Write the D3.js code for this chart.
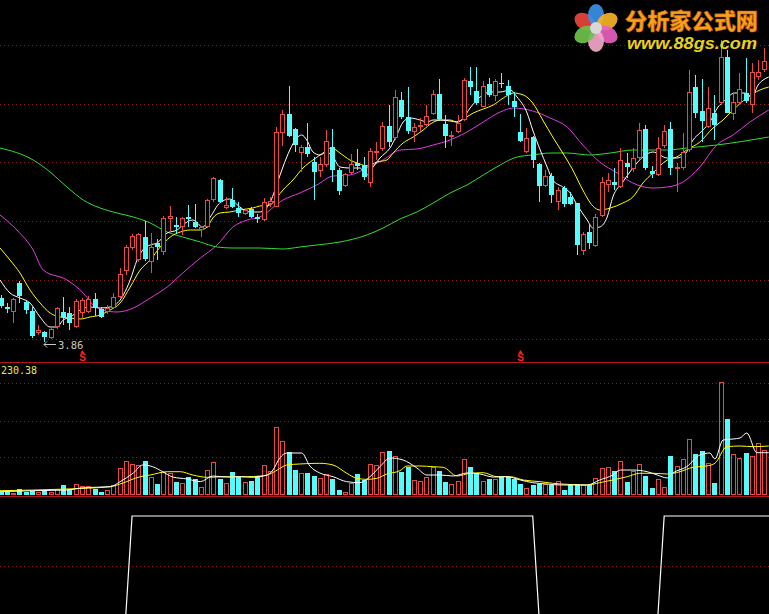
<!DOCTYPE html>
<html><head><meta charset="utf-8">
<script src="https://cdn.jsdelivr.net/npm/d3@7"></script>
<style>html,body{margin:0;padding:0;background:#000;overflow:hidden}</style>
</head><body>
<svg id="c" width="769" height="614"></svg>
<script>
// ---------- DATA ----------
const opens  = [4.30,4.21,4.16,4.45,4.26,4.17,3.95,3.96,3.90,4.01,4.16,4.15,4.01,4.15,4.16,4.29,4.19,4.16,4.20,4.31,
4.57,4.80,4.68,4.91,4.66,4.85,4.76,5.09,5.03,5.01,5.11,5.06,4.98,5.01,5.28,5.48,5.20,5.28,5.20,5.14,
5.19,5.11,5.08,5.24,5.21,5.95,6.14,5.99,5.75,5.81,5.66,5.57,5.63,5.81,5.58,5.42,5.55,5.65,5.63,5.45,
5.75,5.79,6.02,5.90,6.28,6.11,5.96,6.01,6.03,6.14,6.34,6.04,5.91,5.96,6.08,6.47,6.37,6.21,6.44,6.32,
6.45,6.42,6.27,5.96,5.76,5.91,5.64,5.42,5.52,5.26,5.40,5.31,5.25,4.77,4.96,4.82,5.12,5.43,5.46,5.41,
5.65,5.59,5.70,5.99,5.57,5.53,5.82,5.99,5.59,5.60,5.78,6.41,6.17,6.01,6.15,6.25,6.71,6.14,6.25,6.35,
6.23,6.51,6.58,6.53];
const closes = [4.22,4.19,4.29,4.32,4.18,3.92,3.98,3.91,3.99,4.20,4.11,4.05,4.27,4.28,4.29,4.20,4.11,4.20,4.31,4.54,
4.81,4.92,4.94,4.69,4.81,4.81,5.10,5.12,5.01,5.10,5.09,5.01,5.01,5.28,5.50,5.26,5.23,5.21,5.15,5.18,
5.11,5.09,5.26,5.27,5.96,6.14,5.92,5.83,5.81,5.74,5.56,5.64,5.87,5.58,5.37,5.54,5.64,5.62,5.51,5.77,
5.77,6.02,5.86,6.31,6.11,5.97,6.01,6.03,6.12,6.34,6.09,5.92,5.93,6.05,6.48,6.41,6.25,6.42,6.33,6.47,
6.44,6.33,6.21,5.87,5.90,5.68,5.42,5.52,5.33,5.38,5.24,5.24,4.83,4.94,4.85,5.11,5.46,5.48,5.43,5.68,
5.61,5.70,5.98,5.60,5.54,5.80,5.97,5.60,5.61,5.76,6.36,6.15,6.07,6.20,6.03,6.71,6.15,6.26,6.39,6.27,
6.56,6.56,6.67,6.55];
const highs  = [4.33,4.25,4.30,4.47,4.27,4.21,4.03,3.97,4.01,4.21,4.31,4.21,4.29,4.30,4.32,4.35,4.21,4.23,4.35,4.60,
4.83,4.94,4.95,5.07,4.95,4.89,5.12,5.22,5.11,5.11,5.23,5.24,5.02,5.29,5.51,5.49,5.31,5.40,5.26,5.20,
5.21,5.14,5.30,5.31,6.01,6.18,6.42,6.00,5.83,6.05,5.71,5.71,5.98,5.99,5.60,5.55,5.74,5.79,5.71,5.80,
5.86,6.06,6.23,6.38,6.36,6.41,6.05,6.10,6.23,6.38,6.49,6.13,5.97,6.13,6.50,6.61,6.61,6.47,6.50,6.49,
6.55,6.48,6.36,6.14,6.00,5.92,5.65,5.58,5.55,5.41,5.42,5.36,5.25,4.96,5.03,5.14,5.51,5.55,5.60,5.80,
5.75,5.80,6.05,6.03,5.62,5.91,6.03,6.06,5.65,5.95,6.58,6.53,6.49,6.41,6.33,6.88,6.78,6.36,6.55,6.70,
6.65,6.68,6.80,6.58];
const lows   = [4.20,4.15,4.05,4.25,4.14,3.90,3.93,3.86,3.89,3.99,4.03,3.98,4.00,4.10,4.15,4.12,4.10,4.14,4.19,4.30,
4.53,4.78,4.66,4.67,4.55,4.68,4.73,4.96,4.95,4.93,5.01,5.00,4.91,5.00,5.26,5.25,5.19,5.20,5.11,5.13,
5.10,5.05,5.07,5.21,5.21,5.82,5.91,5.76,5.56,5.71,5.28,5.51,5.61,5.46,5.33,5.41,5.53,5.58,5.48,5.41,
5.68,5.77,5.81,5.88,6.09,5.94,5.86,5.96,6.02,6.13,6.07,5.80,5.82,5.95,6.07,6.33,6.23,6.21,6.31,6.27,
6.40,6.23,6.11,5.86,5.75,5.60,5.26,5.41,5.25,5.18,5.21,5.23,4.73,4.73,4.79,4.81,5.11,5.36,5.38,5.40,
5.50,5.56,5.68,5.58,5.50,5.52,5.80,5.53,5.36,5.58,5.76,6.10,5.86,6.00,5.88,6.23,6.15,6.08,6.23,6.25,
6.15,6.48,6.56,6.51];
const volumes = [4.8,4.8,4.2,10.1,6,7.7,6,7.7,6,11.3,17.9,10.7,19.6,16.1,16.1,10.7,6,8.9,17.9,48.2,
60.7,55.4,53.6,60.7,32.7,19.6,41.7,38.7,23.2,22,32.7,28,14.9,44.6,58.9,29.2,20.8,40.5,32.7,23.2,
25.6,33.9,53.6,42.9,120.8,96.4,76.2,44.6,38.7,39.9,33.9,31,36.9,28.6,8.9,4.8,22,37.5,26.8,54.8,
53.6,76.2,78.6,69.6,41.7,50.6,26.8,25,32.7,50.6,42.9,23.2,19.6,25,64.3,50.6,38.7,25,28,28,
31.5,32.7,28,19.6,12.5,18.5,19.6,19.6,17.3,25,8.9,17.9,19.6,17.3,17.3,30.4,48.2,50,42.9,60.7,
23.8,42.9,54.8,34.5,12.5,28.6,14.3,69.6,51.8,64.3,100,73.2,78.6,56.5,22,201,135.7,73.2,66.7,75.6,
69.6,92.3,80.4,68.5];
// moving-average lines: [bar index, value]
const maWhite = [[-0.1,4.48],[1.5,4.35],[3.1,4.30],[4.7,4.25],[6.3,4.11],[7.9,4.01],[9.0,4.01],[10.0,4.08],[11.1,4.11],[12.7,4.18],[14.3,4.21],[15.9,4.20],[17.5,4.21],[19.1,4.28],[20.7,4.48],[21.8,4.68],[22.7,4.78],[23.9,4.83],[25.0,4.85],[26.6,4.95],[28.2,4.98],[29.1,5.03],[30.7,5.08],[32.3,5.01],[33.5,5.11],[35.0,5.25],[36.6,5.29],[38.2,5.21],[39.8,5.16],[41.4,5.16],[43.0,5.25],[44.2,5.45],[45.1,5.61],[46.2,5.78],[47.3,5.90],[48.1,5.93],[48.9,5.88],[49.9,5.76],[51.0,5.73],[52.1,5.76],[53.1,5.71],[54.2,5.61],[55.8,5.60],[57.4,5.60],[58.5,5.53],[59.5,5.61],[60.6,5.70],[62.2,5.80],[63.3,5.93],[64.3,6.06],[65.4,6.10],[67.0,6.08],[68.1,6.06],[69.1,6.08],[70.2,6.08],[71.8,6.07],[72.9,6.06],[73.9,6.10],[75.0,6.20],[76.6,6.31],[78.2,6.36],[79.8,6.36],[81.4,6.38],[82.5,6.31],[84.1,6.15],[85.0,5.98],[86.2,5.78],[87.3,5.61],[88.2,5.48],[89.8,5.41],[91.0,5.35],[92.1,5.23],[93.7,5.08],[94.6,5.00],[95.7,5.01],[96.9,5.11],[97.8,5.31],[99.4,5.46],[101.0,5.60],[102.6,5.71],[104.2,5.76],[106.5,5.70],[108.0,5.70],[109.6,5.76],[110.6,5.88],[111.7,5.95],[113.3,6.06],[114.6,6.21],[115.4,6.26],[117.3,6.35],[118.9,6.35],[120.0,6.31],[121.0,6.43],[121.8,6.48],[122.7,6.51]];
const maYellow = [[-0.1,4.80],[1.5,4.68],[3.1,4.55],[4.7,4.38],[6.3,4.25],[7.9,4.15],[9.5,4.11],[11.1,4.10],[12.7,4.09],[14.3,4.11],[15.9,4.13],[17.5,4.18],[19.1,4.25],[20.7,4.41],[22.3,4.58],[23.9,4.68],[25.5,4.81],[27.1,4.91],[28.7,4.96],[30.3,4.98],[31.9,4.98],[33.0,5.01],[33.9,5.10],[35.0,5.15],[36.6,5.16],[38.2,5.18],[40.3,5.20],[41.4,5.22],[43.0,5.23],[44.2,5.31],[45.1,5.38],[46.7,5.48],[48.3,5.60],[49.9,5.68],[51.5,5.75],[52.9,5.80],[54.2,5.75],[55.8,5.68],[57.4,5.64],[58.5,5.62],[60.1,5.66],[61.7,5.68],[62.7,5.75],[64.3,5.85],[65.9,5.91],[67.5,5.98],[68.9,6.05],[70.2,6.08],[71.8,6.08],[72.9,6.06],[74.2,6.10],[75.5,6.15],[77.1,6.19],[78.7,6.23],[80.3,6.30],[81.9,6.35],[83.5,6.33],[85.0,6.25],[86.6,6.08],[88.2,5.91],[89.8,5.75],[91.4,5.58],[93.0,5.38],[94.6,5.22],[95.7,5.18],[97.4,5.20],[99.4,5.25],[101.0,5.31],[102.6,5.45],[104.2,5.55],[106.5,5.68],[108.0,5.71],[109.6,5.78],[111.7,5.86],[113.8,6.00],[115.4,6.08],[117.0,6.18],[119.2,6.30],[121.3,6.38],[122.7,6.41]];
const maMagenta = [[-0.1,5.13],[2.6,4.98],[5.2,4.78],[6.8,4.58],[10.6,4.48],[13.2,4.35],[14.8,4.23],[16.4,4.18],[18.6,4.16],[21.2,4.20],[23.9,4.30],[26.6,4.41],[29.1,4.55],[31.9,4.70],[34.6,4.83],[37.1,5.01],[39.4,5.08],[41.4,5.11],[45.1,5.28],[47.8,5.35],[50.5,5.43],[53.1,5.52],[55.8,5.53],[58.5,5.60],[61.1,5.68],[63.8,5.78],[66.5,5.79],[69.1,5.83],[71.8,5.88],[74.5,5.96],[77.1,6.06],[79.8,6.16],[81.9,6.20],[85.0,6.17],[87.8,6.10],[90.5,6.01],[93.0,5.83],[95.7,5.66],[98.5,5.55],[101.0,5.45],[104.2,5.40],[106.5,5.41],[109.0,5.46],[111.7,5.61],[114.4,5.83],[117.0,5.93],[119.7,6.06],[122.7,6.18]];
const maGreen = [[-0.1,5.80],[5.2,5.68],[7.9,5.56],[10.6,5.41],[13.2,5.28],[15.9,5.20],[18.6,5.15],[21.2,5.11],[23.9,5.05],[26.6,4.96],[29.1,4.91],[31.9,4.86],[34.6,4.81],[37.1,4.80],[41.4,4.80],[45.1,4.79],[47.8,4.81],[50.5,4.83],[54.2,4.86],[58.5,4.93],[61.1,5.00],[63.8,5.09],[66.5,5.16],[69.1,5.25],[71.8,5.35],[74.5,5.43],[77.1,5.53],[79.8,5.63],[82.5,5.71],[85.0,5.73],[87.8,5.75],[90.5,5.75],[94.1,5.73],[97.4,5.75],[101.0,5.78],[106.5,5.78],[109.6,5.80],[114.4,5.83],[122.7,5.91]];
const volMaWhite = [[-0.1,5.9],[5.2,7.7],[10.6,8.9],[13.2,13],[17.5,14.8],[19.1,23.8],[21.2,39.3],[22.7,53.6],[24.3,50.5],[25.9,41.6],[27.5,32.1],[29.8,28.6],[31.9,23.8],[33.9,33.9],[36.2,32.1],[38.2,32.7],[40.3,31.6],[42.6,35.7],[43.5,44.6],[44.6,66.1],[45.7,75],[48.1,75],[49.4,51.8],[51.0,39.3],[53.1,32.7],[55.3,23.8],[57.4,22],[59.0,32.7],[60.6,50.5],[62.2,66.1],[64.3,62.5],[66.5,48.2],[68.1,35.7],[70.2,35.7],[72.3,33.9],[74.5,39.3],[76.6,37.5],[78.7,32.1],[80.9,32.7],[83.0,26.8],[85.0,22],[87.3,19.6],[89.4,17.9],[91.4,17.9],[93.7,17.9],[95.7,26.8],[97.8,35.7],[99.0,44.6],[101.0,44.6],[103.3,41.6],[104.9,35.7],[106.5,30.4],[107.4,39.3],[109.6,50.5],[111.7,71.4],[113.3,75],[114.1,64.3],[115.4,98.2],[117.0,100],[118.1,101.8],[119.2,110.7],[120.8,75.5],[122.7,75.5]];
const volMaYellow = [[-0.1,7.7],[10.6,10.7],[17.5,14.8],[19.1,19.6],[22.3,32.7],[23.9,35.7],[26.6,41.6],[28.7,41.6],[30.7,35.7],[33.0,31.6],[36.2,32.7],[39.4,32.7],[41.4,33.9],[42.6,35.7],[44.2,44.6],[45.7,53.6],[47.8,55.4],[51.0,56.6],[53.1,53.6],[55.3,38.8],[56.9,29.8],[58.5,28],[60.1,29.8],[61.7,37.5],[63.8,43.4],[64.9,51.8],[67.0,51.8],[69.1,50.5],[70.7,49.5],[72.9,34],[75.0,38.8],[77.1,39.8],[79.3,32.7],[81.4,32.7],[83.5,26.8],[86.2,23.8],[88.2,20.9],[90.5,19.1],[93.7,17.9],[95.7,22],[97.8,26.8],[100.1,32.7],[102.1,38.8],[104.2,38.8],[106.5,37.5],[108.5,41.6],[110.6,49.5],[112.8,51.8],[114.1,56.6],[116.0,86.3],[118.1,87.5],[120.2,86.3],[122.7,87.5]];
const signal = [0,0,0,0,0,0,0,0,0,0,0,0,0,0,0,0,0,0,0,0,0,
1,1,1,1,1,1,1,1,1,1,1,1,1,1,1,1,1,1,1,1,1,1,1,1,1,1,1,1,1,1,1,1,1,1,1,1,1,1,1,1,1,1,1,1,1,1,1,1,1,1,1,1,1,1,1,1,1,1,1,1,1,1,1,1,1,
0,0,0,0,0,0,0,0,0,0,0,0,0,0,0,0,0,0,0,0,
1,1,1,1,1,1,1,1,1,1,1,1,1,1,1,1,1,1];
const signalBars = [13, 83];
const lowIndex = 7, lowLabel = "3.86";
const volTopLabel = "230.38";
const priceGrid = [6.83, 6.24, 5.66, 5.07, 4.48, 3.89];
const volGrid = [200, 133, 67];
const sigGrid = [0.5];
const logoTitle = "分析家公式网", logoUrl = "www.88gs.com";

// ---------- CHART ----------
const W = 769, H = 614;
const RED = "#e84848", CYAN = "#54fcfc";
const svg = d3.select("#c");
svg.append("rect").attr("width", W).attr("height", H).attr("fill", "#000");

const x = d3.scaleLinear().domain([0, 123]).range([0.6, 770.6]);
const yP = d3.scaleLinear().domain([3.86, 6.83]).range([342, 45]);
const yV = d3.scaleLinear().domain([0, 230.38]).range([495, 366]);
const yS = d3.scaleLinear().domain([0, 1]).range([615, 516]);

const defs = svg.append("defs");
defs.append("clipPath").attr("id", "cMain").append("rect").attr("x", 0).attr("y", 0).attr("width", W).attr("height", 361);
defs.append("clipPath").attr("id", "cVol").append("rect").attr("x", 0).attr("y", 364).attr("width", W).attr("height", 132);

// grid lines
const grid = svg.append("g").attr("stroke", "#8a1c1c").attr("stroke-dasharray", "1,3").attr("shape-rendering", "crispEdges");
priceGrid.forEach(p => grid.append("line").attr("x1", 0).attr("x2", W).attr("y1", Math.round(yP(p)) + 0.5).attr("y2", Math.round(yP(p)) + 0.5));
volGrid.forEach(v => grid.append("line").attr("x1", 0).attr("x2", W).attr("y1", Math.round(yV(v)) + 0.5).attr("y2", Math.round(yV(v)) + 0.5));
sigGrid.forEach(v => grid.append("line").attr("x1", 0).attr("x2", W).attr("y1", Math.round(yS(v)) + 0.5).attr("y2", Math.round(yS(v)) + 0.5));

// separators
[362.5, 496.5].forEach(yy => svg.append("line").attr("x1", 0).attr("x2", W).attr("y1", yy).attr("y2", yy)
  .attr("stroke", "#b01818").attr("stroke-width", 1).attr("shape-rendering", "crispEdges"));

// moving averages (main)
const gMain = svg.append("g").attr("clip-path", "url(#cMain)");
const lineP = d3.line().x(d => x(d[0])).y(d => yP(d[1])).curve(d3.curveMonotoneX);
[[maGreen, "#2ee02e"], [maMagenta, "#e23ce2"], [maYellow, "#ffff00"], [maWhite, "#ffffff"]].forEach(([d, c]) =>
  gMain.append("path").attr("d", lineP(d)).attr("fill", "none").attr("stroke", c).attr("stroke-width", 1));

// candles
const candles = gMain.append("g").attr("shape-rendering", "crispEdges");
opens.forEach((o, i) => {
  const c = closes[i], h = highs[i], l = lows[i];
  const cx = Math.round(x(i));
  const up = c >= o;
  const yTop = Math.round(yP(Math.max(o, c))), yBot = Math.round(yP(Math.min(o, c)));
  const yH = Math.round(yP(h)), yL = Math.round(yP(l));
  if (up) {
    if (yTop > yH) candles.append("line").attr("x1", cx + 0.5).attr("x2", cx + 0.5).attr("y1", yH).attr("y2", yTop).attr("stroke", RED);
    if (yL > yBot) candles.append("line").attr("x1", cx + 0.5).attr("x2", cx + 0.5).attr("y1", yBot).attr("y2", yL).attr("stroke", RED);
    if (yBot - yTop < 2) {
      candles.append("line").attr("x1", cx - 2).attr("x2", cx + 3).attr("y1", yTop + 0.5).attr("y2", yTop + 0.5).attr("stroke", RED);
    } else {
      candles.append("rect").attr("x", cx - 1.5).attr("y", yTop + 0.5).attr("width", 4).attr("height", yBot - yTop - 1)
        .attr("fill", "#000").attr("stroke", RED);
    }
  } else {
    candles.append("line").attr("x1", cx + 0.5).attr("x2", cx + 0.5).attr("y1", yH).attr("y2", yL).attr("stroke", CYAN);
    candles.append("rect").attr("x", cx - 2).attr("y", yTop).attr("width", 5).attr("height", Math.max(1, yBot - yTop)).attr("fill", CYAN);
  }
});

// low label
const lx = Math.round(x(lowIndex)), ly = Math.round(yP(3.86)) + 2.5;
svg.append("path").attr("d", `M${lx + 12},${ly} H${lx} M${lx + 3},${ly - 3} L${lx},${ly} L${lx + 3},${ly + 3}`)
  .attr("stroke", "#c8c8c8").attr("fill", "none");
svg.append("text").attr("x", lx + 14).attr("y", ly + 4).text(lowLabel)
  .attr("fill", "#c8c8c8").attr("font-family", "DejaVu Sans Mono, monospace").attr("font-size", 10.5);

// signal markers
signalBars.forEach(i => {
  const cx = Math.round(x(i)) + 0.5;
  svg.append("path").attr("d", `M${cx - 2},353 L${cx},350 L${cx + 2},353 Z`).attr("fill", "#ff2020");
  svg.append("text").attr("x", cx).attr("y", 361).attr("text-anchor", "middle").text("S")
    .attr("fill", "#ff2020").attr("font-family", "Liberation Sans, Arial, sans-serif").attr("font-weight", "bold").attr("font-size", 10);
});

// volume panel
const gVol = svg.append("g").attr("clip-path", "url(#cVol)");
const vb = gVol.append("g").attr("shape-rendering", "crispEdges");
volumes.forEach((v, i) => {
  const cx = Math.round(x(i));
  const top = Math.round(yV(v)), base = Math.round(yV(0));
  if (closes[i] >= opens[i]) {
    vb.append("rect").attr("x", cx - 1.5).attr("y", top + 0.5).attr("width", 4).attr("height", Math.max(1, base - top - 1))
      .attr("fill", "none").attr("stroke", RED);
  } else {
    vb.append("rect").attr("x", cx - 2).attr("y", top).attr("width", 5).attr("height", base - top).attr("fill", CYAN);
  }
});
const lineV = d3.line().x(d => x(d[0])).y(d => yV(d[1])).curve(d3.curveMonotoneX);
gVol.append("path").attr("d", lineV(volMaYellow)).attr("fill", "none").attr("stroke", "#ffff00");
gVol.append("path").attr("d", lineV(volMaWhite)).attr("fill", "none").attr("stroke", "#ffffff");
svg.append("text").attr("x", 1).attr("y", 374).text(volTopLabel)
  .attr("fill", "#e8e850").attr("font-family", "DejaVu Sans Mono, monospace").attr("font-size", 10);

// signal panel
const lineS = d3.line().x((d, i) => x(i)).y(d => yS(d));
svg.append("path").attr("d", lineS(signal)).attr("fill", "none").attr("stroke", "#fff").attr("stroke-width", 1.2);

// logo
const logo = svg.append("g");
const fcx = 596, fcy = 28;
const petals = ["#e8453c", "#3b8fe8", "#f5b324", "#e75fbf", "#f2a7c7", "#6cc24a"];
petals.forEach((col, k) => {
  const a = -150 + k * 60;
  const rad = a * Math.PI / 180;
  logo.append("ellipse").attr("cx", fcx + 13 * Math.cos(rad)).attr("cy", fcy + 13 * Math.sin(rad))
    .attr("rx", 11).attr("ry", 8).attr("transform", `rotate(${a},${fcx + 13 * Math.cos(rad)},${fcy + 13 * Math.sin(rad)})`)
    .attr("fill", col).attr("opacity", 0.92);
});
logo.append("circle").attr("cx", fcx).attr("cy", fcy).attr("r", 6).attr("fill", "#d8d8d8");
logo.append("text").attr("x", 625).attr("y", 29).text(logoTitle)
  .attr("fill", "#f7a01b").attr("stroke", "#c05a10").attr("stroke-width", 0.6)
  .attr("font-family", "Noto Sans CJK SC, sans-serif").attr("font-weight", "900").attr("font-size", 22)
  .attr("textLength", 133).attr("lengthAdjust", "spacingAndGlyphs");
logo.append("text").attr("x", 627).attr("y", 49).text(logoUrl)
  .attr("fill", "#e8d21d").attr("font-family", "Liberation Sans, Arial, sans-serif").attr("font-weight", "bold")
  .attr("font-style", "italic").attr("font-size", 17)
  .attr("textLength", 130).attr("lengthAdjust", "spacingAndGlyphs");
</script>
</body></html>
